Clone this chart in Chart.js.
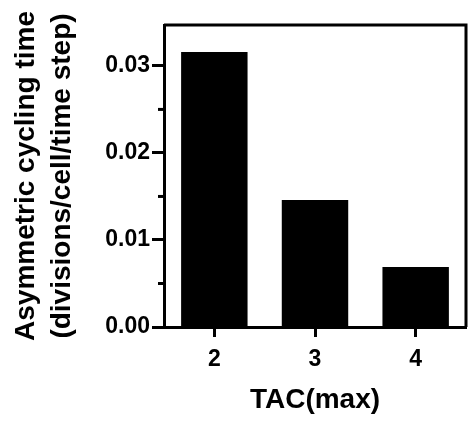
<!DOCTYPE html>
<html>
<head>
<meta charset="utf-8">
<script src="https://cdn.jsdelivr.net/npm/chart.js@4"></script>
<style>
  html, body { margin: 0; padding: 0; background: #fff; }
  #wrap { width: 468px; height: 423px; }
</style>
</head>
<body>
<div id="wrap"><canvas id="chart" width="468" height="423"></canvas></div>
<script>
// categories and values
const tacLabels = ['2', '3', '4'];
const cyclingValues = [0.0316, 0.0146, 0.0069];
const majorTicks = [0, 0.01, 0.02, 0.03];
const minorTicks = [0.005, 0.015, 0.025];
const yMax = 0.0347;

const FONT = "'Liberation Sans', Arial, Helvetica, sans-serif";

// frame on top/right + short minor ticks on the y axis
const framePlugin = {
    id: 'frame',
    afterDraw(chart) {
        const { ctx, chartArea } = chart;
        const y = chart.scales.y;
        ctx.save();
        ctx.strokeStyle = '#000';
        ctx.lineWidth = 3;
        ctx.beginPath();
        ctx.moveTo(chartArea.left, chartArea.top);
        ctx.lineTo(chartArea.right, chartArea.top);
        ctx.lineTo(chartArea.right, chartArea.bottom);
        ctx.stroke();
        minorTicks.forEach(v => {
            const py = y.getPixelForValue(v);
            ctx.beginPath();
            ctx.moveTo(chartArea.left - 6, py);
            ctx.lineTo(chartArea.left, py);
            ctx.stroke();
        });
        ctx.restore();
    }
};

new Chart(document.getElementById('chart'), {
    type: 'bar',
    data: {
        labels: tacLabels,
        datasets: [{
            data: cyclingValues,
            backgroundColor: '#000',
            borderWidth: 0,
            categoryPercentage: 0.66,
            barPercentage: 1
        }]
    },
    options: {
        responsive: false,
        animation: false,
        layout: { padding: { top: 25, right: 2, bottom: 0, left: 0 } },
        plugins: { legend: { display: false }, tooltip: { enabled: false } },
        scales: {
            x: {
                offset: true,
                border: { display: true, color: '#000', width: 3 },
                grid: { display: true, offset: false, drawOnChartArea: false, tickLength: 10, tickWidth: 3, tickColor: '#000' },
                ticks: { color: '#000', padding: 9, font: { family: FONT, size: 23, weight: 'bold' } },
                title: {
                    display: true,
                    text: 'TAC(max)',
                    color: '#000',
                    padding: { top: 0, bottom: 6 },
                    font: { family: FONT, size: 28, weight: 'bold', lineHeight: 1.2 }
                },
                afterFit(scale) { scale.height = 96; }
            },
            y: {
                min: 0,
                max: yMax,
                border: { display: true, color: '#000', width: 3 },
                grid: { display: true, drawOnChartArea: false, tickLength: 12, tickWidth: 3, tickColor: '#000' },
                afterBuildTicks(scale) { scale.ticks = majorTicks.map(v => ({ value: v })); },
                ticks: {
                    color: '#000',
                    padding: 2,
                    font: { family: FONT, size: 23, weight: 'bold' },
                    callback: v => v.toFixed(2)
                },
                title: {
                    display: true,
                    text: ['Asymmetric cycling time', '(divisions/cell/time step)'],
                    color: '#000',
                    padding: { top: 9, bottom: 0 },
                    font: { family: FONT, size: 28, weight: 'bold', lineHeight: 1.27 }
                },
                afterFit(scale) { scale.width = 164; }
            }
        }
    },
    plugins: [framePlugin]
});
</script>
</body>
</html>
